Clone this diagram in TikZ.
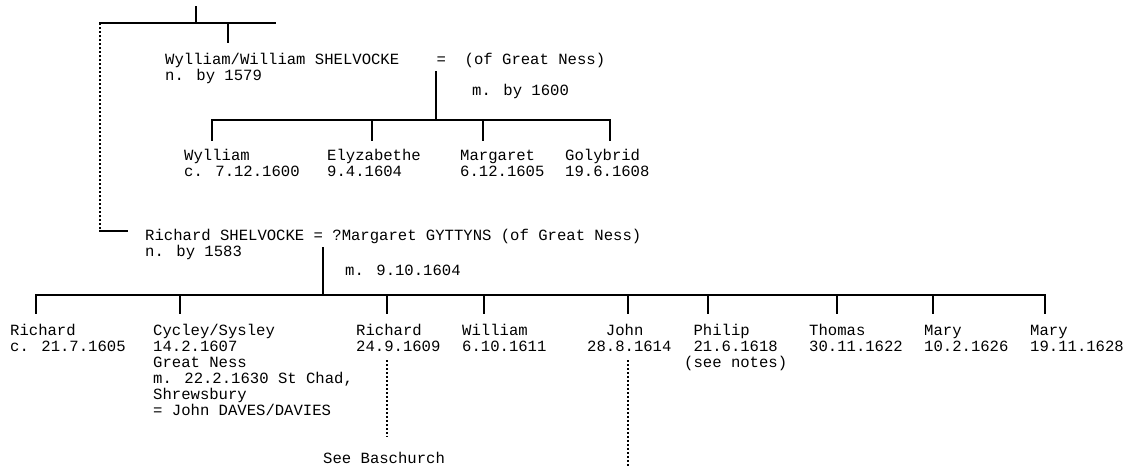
\documentclass[tikz,border=0pt]{standalone}
\usepackage{fontspec}
\newfontfamily\pedfont{Liberation Mono}
\usetikzlibrary{positioning}
% note: a multi-line node sits on the baseline of its last line
\tikzstyle{person} = [
    anchor=base west,
    align=left,
    inner sep=0pt,
    font=\pedfont\fontsize{15.6}{16}\selectfont
]
\tikzstyle{line_solid} = [
    draw=black,
    line width=2.4pt,
    line cap=rect
]
\tikzstyle{line_dotted} = [
    draw=black,
    line width=2.4pt,
    dash pattern=on 2.2pt off 1.8pt
]
\begin{document}
\begin{tikzpicture}[x=1pt, y=-1pt]
\useasboundingbox (0,0) rectangle (1128,466);

% first generation
\node [person] (wyl_sen) at (165,80) {Wylliam/William SHELVOCKE~~~~=~~(of Great Ness)\\n. by 1579};
\node [person] (m_1600) at (472,95) {m. by 1600};
\node [person] (rich_sen) at (145,256) {Richard SHELVOCKE = ?Margaret GYTTYNS (of Great Ness)\\n. by 1583};
\node [person] (m_1604) at (345,275) {m. 9.10.1604};

% children of Wylliam
\node [person] (wyl_jun) at (184,176) {Wylliam\\c. 7.12.1600};
\node [person] (elyz) at (327,176) {Elyzabethe\\9.4.1604};
\node [person] (marg) at (460,176) {Margaret\\6.12.1605};
\node [person] (goly) at (565,176) {Golybrid\\19.6.1608};

% children of Richard
\node [person] (rich_a) at (10,351) {Richard\\c. 21.7.1605};
\node [person] (cycley) at (153,415) {Cycley/Sysley\\14.2.1607\\Great Ness\\m. 22.2.1630 St Chad,\\Shrewsbury\\= John DAVES/DAVIES};
\node [person] (rich_b) at (356,351) {Richard\\24.9.1609};
\node [person] (will) at (462,351) {William\\6.10.1611};
\node [person] (john) at (587,351) {~~John\\28.8.1614};
\node [person] (philip) at (684,367) {~Philip\\~21.6.1618\\(see notes)};
\node [person] (thomas) at (809,351) {Thomas\\30.11.1622};
\node [person] (mary_a) at (924,351) {Mary\\10.2.1626};
\node [person] (mary_b) at (1030,351) {Mary\\19.11.1628};
\node [person] (basch) at (323,463) {See Baschurch};

% top line
\coordinate (top_a) at (196,7);
\coordinate (top_b) at (196,23);
\coordinate (bar0_l) at (100,23);
\coordinate (bar0_r) at (275,23);
\coordinate (wyl_up) at (228,23);
\coordinate (wyl_dn) at (228,42);
\coordinate (rich_corner) at (100,231);
\coordinate (rich_in) at (127,231);
\draw [line_solid] (top_a) -- (top_b);
\draw [line_solid] (bar0_l) -- (bar0_r);
\draw [line_solid] (wyl_up) -- (wyl_dn);
\draw [line_dotted] (bar0_l) -- (rich_corner);
\draw [line_solid] (rich_corner) -- (rich_in);

% family of Wylliam
\coordinate (cpl1_a) at (436,72);
\coordinate (cpl1_b) at (436,120);
\coordinate (bar1_l) at (212,120);
\coordinate (bar1_r) at (610,120);
\draw [line_solid] (cpl1_a) -- (cpl1_b);
\draw [line_solid] (bar1_l) -- (bar1_r);
\foreach \x [count=\i] in {212,372,483,610} {
    \coordinate (k1_up\i) at (\x,120);
    \coordinate (k1_dn\i) at (\x,140);
    \draw [line_solid] (k1_up\i) -- (k1_dn\i);
}

% family of Richard
\coordinate (cpl2_a) at (323,248);
\coordinate (cpl2_b) at (323,295);
\coordinate (bar2_l) at (36,295);
\coordinate (bar2_r) at (1045,295);
\draw [line_solid] (cpl2_a) -- (cpl2_b);
\draw [line_solid] (bar2_l) -- (bar2_r);
\foreach \x [count=\i] in {36,180,387,484,628,708,837,933,1045} {
    \coordinate (k2_up\i) at (\x,295);
    \coordinate (k2_dn\i) at (\x,313);
    \draw [line_solid] (k2_up\i) -- (k2_dn\i);
}

% descent lines
\coordinate (rich_b_a) at (387,360);
\coordinate (rich_b_b) at (387,437);
\coordinate (john_a) at (628,360);
\coordinate (john_b) at (628,466);
\draw [line_dotted] (rich_b_a) -- (rich_b_b);
\draw [line_dotted] (john_a) -- (john_b);
\end{tikzpicture}
\end{document}
